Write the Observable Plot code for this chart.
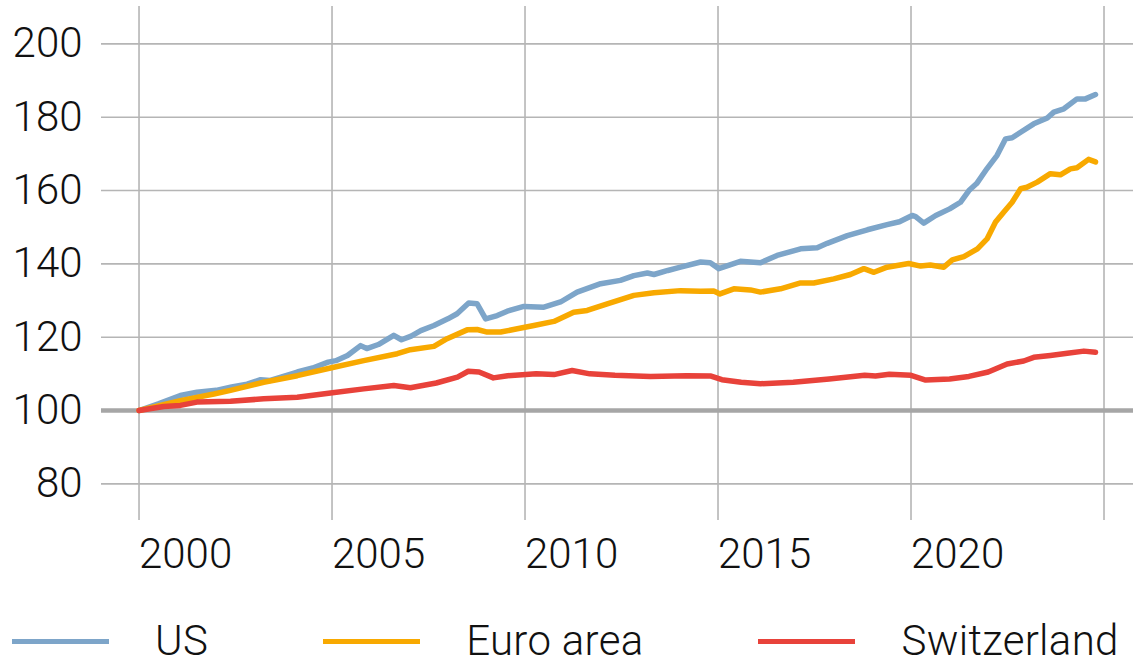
<!DOCTYPE html>
<html>
<head>
<meta charset="utf-8">
<script src="https://cdn.jsdelivr.net/npm/d3@7"></script>
<script src="https://cdn.jsdelivr.net/npm/@observablehq/plot@0.6"></script>
<style>
  html, body { margin: 0; padding: 0; background: #fff; }
  #wrap { width: 1133px; height: 664px; position: relative; overflow: hidden; font-family: Roboto, "Noto Sans", sans-serif; font-weight: 300; }
  #chart svg { display: block; }
  #legend { position: absolute; left: 12px; top: 620px; height: 42px; line-height: 42px; display: flex; align-items: center; font-size: 42px; letter-spacing: 0.3px; color: #111; white-space: nowrap; }
  .item { display: flex; align-items: center; margin-right: 115px; flex: none; }
  .sw { width: 97px; height: 5px; margin-right: 46px; flex: none; }
</style>
</head>
<body>
<div id="wrap">
  <div id="chart"></div>
  <div id="legend"></div>
</div>
<script>
const seriesNames = ["US", "Euro area", "Switzerland"];
const seriesColors = ["#7da5c9", "#f8a900", "#e8423a"];

const usYears = [2000.0, 2000.5, 2001.07, 2001.5, 2002.0, 2002.4, 2002.8, 2003.15, 2003.4, 2003.7, 2004.1, 2004.5, 2004.9, 2005.1, 2005.4, 2005.74, 2005.9, 2006.2, 2006.6, 2006.8, 2007.05, 2007.3, 2007.64, 2008.0, 2008.24, 2008.54, 2008.76, 2008.98, 2009.28, 2009.54, 2009.97, 2010.49, 2010.92, 2011.35, 2011.96, 2012.47, 2012.82, 2013.17, 2013.34, 2013.7, 2014.03, 2014.55, 2014.8, 2015.02, 2015.58, 2016.1, 2016.53, 2017.14, 2017.57, 2017.83, 2018.35, 2018.87, 2019.38, 2019.7, 2020.03, 2020.12, 2020.33, 2020.64, 2021.0, 2021.28, 2021.5, 2021.7, 2021.97, 2022.23, 2022.45, 2022.62, 2022.84, 2023.18, 2023.53, 2023.7, 2023.96, 2024.3, 2024.52, 2024.78];
const usValues = [100, 101.8, 104.1, 105.0, 105.5, 106.4, 107.2, 108.4, 108.2, 109.2, 110.5, 111.6, 113.2, 113.6, 115.0, 117.7, 116.9, 118.0, 120.5, 119.3, 120.3, 121.8, 123.2, 125.0, 126.4, 129.3, 129.1, 125.0, 125.9, 127.1, 128.4, 128.2, 129.6, 132.3, 134.6, 135.5, 136.8, 137.5, 137.1, 138.2, 139.1, 140.5, 140.3, 138.7, 140.7, 140.3, 142.3, 144.1, 144.4, 145.6, 147.7, 149.3, 150.7, 151.5, 153.2, 152.9, 151.1, 153.2, 155.0, 156.8, 160.0, 161.9, 166.0, 169.6, 174.1, 174.4, 175.9, 178.2, 179.8, 181.4, 182.3, 185.0, 185.0, 186.2];

const euroYears = [2000.0, 2001.07, 2001.94, 2002.37, 2003.23, 2004.1, 2004.96, 2005.82, 2006.69, 2007.03, 2007.64, 2007.98, 2008.5, 2008.76, 2009.02, 2009.37, 2009.8, 2010.23, 2010.75, 2011.26, 2011.61, 2012.13, 2012.82, 2013.34, 2014.03, 2014.55, 2014.89, 2015.05, 2015.41, 2015.84, 2016.1, 2016.62, 2017.14, 2017.48, 2018.0, 2018.43, 2018.78, 2019.04, 2019.38, 2019.94, 2020.25, 2020.5, 2020.85, 2021.07, 2021.37, 2021.72, 2021.97, 2022.19, 2022.4, 2022.62, 2022.84, 2023.0, 2023.27, 2023.61, 2023.87, 2024.13, 2024.3, 2024.6, 2024.78];
const euroValues = [100, 102.7, 104.5, 105.5, 107.7, 109.5, 111.6, 113.6, 115.5, 116.6, 117.5, 119.6, 122.0, 122.1, 121.4, 121.4, 122.3, 123.2, 124.3, 126.8, 127.3, 129.1, 131.4, 132.1, 132.7, 132.5, 132.6, 131.8, 133.2, 132.9, 132.3, 133.2, 134.8, 134.8, 135.9, 137.1, 138.7, 137.7, 139.1, 140.1, 139.4, 139.7, 139.1, 141.1, 142.0, 144.1, 146.8, 151.4, 154.1, 156.8, 160.5, 160.9, 162.3, 164.6, 164.3, 165.9, 166.2, 168.5, 167.8];

const swissYears = [2000.0, 2000.64, 2001.07, 2001.5, 2002.37, 2003.23, 2004.1, 2004.96, 2005.82, 2006.6, 2007.03, 2007.7, 2008.25, 2008.53, 2008.81, 2009.18, 2009.55, 2010.29, 2010.75, 2011.22, 2011.68, 2012.33, 2013.25, 2014.18, 2014.82, 2015.1, 2015.6, 2016.1, 2016.95, 2017.88, 2018.8, 2019.08, 2019.44, 2020.0, 2020.38, 2021.0, 2021.5, 2022.0, 2022.49, 2022.92, 2023.18, 2023.61, 2024.05, 2024.48, 2024.78];
const swissValues = [100, 101.1, 101.4, 102.3, 102.5, 103.2, 103.6, 104.8, 105.9, 106.8, 106.2, 107.5, 109.1, 110.7, 110.5, 108.9, 109.5, 110.0, 109.8, 110.9, 110.0, 109.6, 109.3, 109.5, 109.4, 108.4, 107.7, 107.3, 107.7, 108.6, 109.6, 109.4, 109.9, 109.6, 108.3, 108.6, 109.3, 110.5, 112.7, 113.5, 114.5, 115.0, 115.6, 116.2, 115.9];

const yTicks = [80, 100, 120, 140, 160, 180, 200];
const xTicks = [2000, 2005, 2010, 2015, 2020];
const xGrid = [2000, 2005, 2010, 2015, 2020, 2025];

const toRows = (name, xs, ys) => xs.map((x, i) => ({series: name, year: x, value: ys[i]}));
const data = [
  ...toRows(seriesNames[0], usYears, usValues),
  ...toRows(seriesNames[1], euroYears, euroValues),
  ...toRows(seriesNames[2], swissYears, swissValues)
];

const chart = Plot.plot({
  width: 1133,
  height: 592,
  marginLeft: 101,
  marginRight: 0,
  marginTop: 6,
  marginBottom: 72,
  style: {fontFamily: "Roboto, 'Noto Sans', sans-serif", fontWeight: 300, fontSize: "42px", color: "#111", background: "#fff"},
  x: {domain: [1999.028, 2025.764]},
  y: {domain: [70, 210.2]},
  color: {domain: seriesNames, range: seriesColors},
  marks: [
    Plot.ruleY(yTicks.filter(d => d !== 100), {stroke: "#b5b5b5", strokeWidth: 1.6}),
    Plot.ruleX(xGrid, {stroke: "#b5b5b5", strokeWidth: 1.6}),
    Plot.ruleY([100], {stroke: "#a6a6a6", strokeWidth: 4.5}),
    Plot.line(data, {x: "year", y: "value", z: "series", stroke: "series", strokeWidth: 5.5, strokeLinejoin: "round", strokeLinecap: "round"}),
    Plot.axisY({ticks: yTicks, tickSize: 0, tickPadding: 19, label: null, fontSize: 42, tickFormat: d => String(d)}),
    Plot.axisX({ticks: xTicks, tickSize: 0, tickPadding: 18, label: null, fontSize: 42, textAnchor: "start", dx: 0, tickFormat: d => String(d)})
  ]
});
document.getElementById("chart").appendChild(chart);

const legend = document.getElementById("legend");
seriesNames.forEach((name, i) => {
  const item = document.createElement("div");
  item.className = "item";
  const sw = document.createElement("div");
  sw.className = "sw";
  sw.style.background = seriesColors[i];
  const lab = document.createElement("span");
  lab.textContent = name;
  item.appendChild(sw);
  item.appendChild(lab);
  legend.appendChild(item);
});
</script>
</body>
</html>
